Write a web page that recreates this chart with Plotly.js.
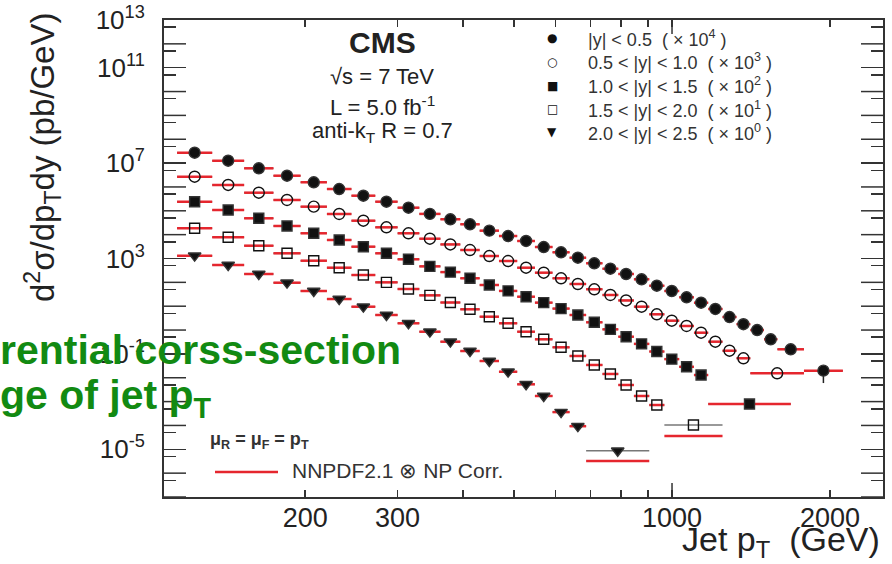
<!DOCTYPE html>
<html><head><meta charset="utf-8">
<script src="https://cdn.plot.ly/plotly-3.0.1.min.js"></script>
<style>html,body{margin:0;padding:0;background:#fff;}#chart{width:892px;height:564px;}</style>
</head><body><div id="chart"></div>
<script>
// ---- data (values as plotted, already multiplied by the legend scale factors) ----
const binEdges = [114,133,153,174,196,220,245,272,300,330,362,395,430,468,507,548,592,638,686,737,790,846,905,967,1032,1101,1172,1248,1327,1410,1497,1588,1684,1784,2116];

const s1Edges = binEdges.slice(0,32).concat([1784,2116]);
const s1Vals = [2.73e7,1.26e7,6.05e6,2.96e6,1.57e6,8.20e5,4.30e5,2.41e5,1.35e5,7.41e4,4.41e4,2.72e4,1.47e4,8.77e3,5.42e3,3.03e3,1.82e3,1.08e3,630,373,224,134,72.4,43.4,23.6,14.0,7.64,3.52,1.76,1.00,0.409,0.156,0.0198];
const s1ErrUp   = [0,0,0,0,0,0,0,0,0,0,0,0,0,0,0,0,0,0,0,0,0,0,0,0,0,0,0,0,0,0,0,0,0.009];
const s1ErrDown = [0,0,0,0,0,0,0,0,0,0,0,0,0,0,0,0,0,0,0,0,0,0,0,0,0,0,0,0,0,0,0,0,0.0138];

const s2Edges = binEdges.slice(0,30).concat([1784]);
const s2Vals = [2.69e6,1.21e6,5.74e5,2.84e5,1.49e5,7.35e4,3.85e4,2.03e4,1.14e4,6.76e3,3.89e3,2.27e3,1.27e3,785,411,254,148,85.3,51.2,29.5,17.4,9.55,4.57,2.47,1.48,0.774,0.325,0.136,0.0655,0.0154];

const s3Edges = binEdges.slice(0,27).concat([1684]);
const s3Vals = [2.41e5,1.08e5,4.85e4,2.31e4,1.14e4,5.97e3,3.13e3,1.65e3,927,468,269,148,77.4,43.7,25.0,14.1,7.94,4.28,2.11,1.07,0.526,0.263,0.126,0.0603,0.0288,0.0130,7.9e-4];

const s4Edges = binEdges.slice(0,24).concat([1248]);
const s4Vals = [1.85e4,7.74e3,3.44e3,1.65e3,809,411,203,100,52.6,28.5,14.3,7.41,3.63,1.92,0.853,0.409,0.189,0.0817,0.0343,0.0144,4.97e-3,1.72e-3,7.19e-4,1.05e-4];
const s4TheoryLast = 3.6e-5;

const s5Edges = binEdges.slice(0,19).concat([905]);
const s5Vals = [1.31e3,533,224,96.6,43.4,20.0,9.53,4.28,1.92,0.853,0.325,0.132,0.0504,0.0179,5.31e-3,1.72e-3,3.63e-4,9.3e-5,8.7e-6];
const s5TheoryLast = 3.2e-6;

const legendLabels = [
  '|y| &lt; 0.5  ( × 10<sup>4</sup> )',
  '0.5 &lt; |y| &lt; 1.0  ( × 10<sup>3</sup> )',
  '1.0 &lt; |y| &lt; 1.5  ( × 10<sup>2</sup> )',
  '1.5 &lt; |y| &lt; 2.0  ( × 10<sup>1</sup> )',
  '2.0 &lt; |y| &lt; 2.5  ( × 10<sup>0</sup> )'
];
const legendGlyphs = ['●','○','■','□','▼'];

const xTickVals = [200,300,1000,2000];
const xTickText = ['200','300','1000','2000'];
const xMinorVals = [400,500,600,700,800,900];
const yTickVals = [1e-5,1e-1,1e3,1e7,1e11,1e13];
const yTickText = ['10<sup>-5</sup>','10<sup>-1</sup>','10<sup>3</sup>','10<sup>7</sup>','10<sup>11</sup>','10<sup>13</sup>'];
const yUnlabeledDecades = [1e-7,1e-6,1e-4,1e-3,1e-2,1,1e1,1e2,1e4,1e5,1e6,1e8,1e9,1e10,1e12];
const yMinorVals = [5e-8,5e-7,5e-6,5e-5,5e-4,5e-3,5e-2,0.5,5,50,500,5e3,5e4,5e5,5e6,5e7,5e8,5e9,5e10,5e11,5e12];

// ---- styling ----
const RED = '#e5262e';
const INK = '#222';
const AX = '#333';
const FONT = 'Liberation Sans, Arial, sans-serif';
const X_RANGE = [2.032, 3.402];
const Y_RANGE = [-7, 13];
const M = {l:164, r:9, t:20, b:67};
const W = 892, H = 564;
const PW = W - M.l - M.r, PH = H - M.t - M.b;
const px = v => (v - M.l) / PW;
const py = v => (H - M.b - v) / PH;

function centers(edges){ const c=[]; for(let i=0;i<edges.length-1;i++) c.push(Math.sqrt(edges[i]*edges[i+1])); return c; }

function errTrace(edges, vals, eUp, eDown){
  const x = centers(edges);
  const t = {x:x, y:vals, type:'scatter', mode:'markers', marker:{size:2, opacity:0}, hoverinfo:'skip',
    error_x:{type:'data', symmetric:false, array:x.map((c,i)=>edges[i+1]-c), arrayminus:x.map((c,i)=>c-edges[i]), color:'#777', thickness:1.5, width:0}};
  if(eUp) t.error_y = {type:'data', symmetric:false, array:eUp, arrayminus:eDown, color:INK, thickness:1.5, width:0};
  return t;
}
function theoryTrace(edges, vals){
  const xs=[], ys=[];
  for(let i=0;i<vals.length;i++){ xs.push(edges[i], edges[i+1], null); ys.push(vals[i], vals[i], null); }
  return {x:xs, y:ys, type:'scatter', mode:'lines', line:{color:RED, width:2.5}, hoverinfo:'skip', connectgaps:false};
}
function markerTrace(edges, vals, sym, size){
  return {x:centers(edges), y:vals, type:'scatter', mode:'markers',
    marker:{symbol:sym, size:size, color:'#111', line:{color:AX, width:1.4}}};
}

const s4Theory = s4Vals.slice(0,-1).concat([s4TheoryLast]);
const s5Theory = s5Vals.slice(0,-1).concat([s5TheoryLast]);

const traces = [
  errTrace(s1Edges, s1Vals, s1ErrUp, s1ErrDown),
  errTrace(s2Edges, s2Vals),
  errTrace(s3Edges, s3Vals),
  errTrace(s4Edges, s4Vals),
  errTrace(s5Edges, s5Vals),
  theoryTrace(s1Edges, s1Vals),
  theoryTrace(s2Edges, s2Vals),
  theoryTrace(s3Edges, s3Vals),
  theoryTrace(s4Edges, s4Theory),
  theoryTrace(s5Edges, s5Theory),
  markerTrace(s1Edges, s1Vals, 'circle', 11),
  markerTrace(s2Edges, s2Vals, 'circle-open', 11),
  markerTrace(s3Edges, s3Vals, 'square', 10),
  markerTrace(s4Edges, s4Vals, 'square-open', 10),
  markerTrace(s5Edges, s5Vals, 'triangle-down', 11)
];

const ann = [];
const A = (o) => ann.push(Object.assign({xref:'paper', yref:'paper', showarrow:false}, o));
const F = (size, color) => ({family:FONT, size:size, color:color || INK});

// CMS block
A({x:px(382), y:py(43), text:'<b>CMS</b>', font:F(30), xanchor:'center', yanchor:'middle'});
A({x:px(382), y:py(76), text:'√s = 7 TeV', font:F(22), xanchor:'center', yanchor:'middle'});
A({x:px(382), y:py(106), text:'L = 5.0 fb<sup>-1</sup>', font:F(22), xanchor:'center', yanchor:'middle'});
A({x:px(382), y:py(132), text:'anti-k<sub>T</sub> R = 0.7', font:F(22), xanchor:'center', yanchor:'middle'});

// top-right legend
const rowY = [38, 62, 86, 109, 132];
for(let i=0;i<legendLabels.length;i++){
  A({x:px(552), y:py(rowY[i]), text:legendGlyphs[i], font:{family:'DejaVu Sans', size:12, color:'#111'}, xanchor:'center', yanchor:'middle'});
  A({x:px(586), y:py(rowY[i]), text:legendLabels[i], font:F(18, '#333'), xanchor:'left', yanchor:'middle'});
}

// bottom-left legend
A({x:px(208), y:py(440), text:'<b>μ<sub>R</sub> = μ<sub>F</sub> = p<sub>T</sub></b>', font:F(18, '#333'), xanchor:'left', yanchor:'middle'});
A({x:px(290), y:py(470), text:'NNPDF2.1 ⊗ NP Corr.', font:F(21, '#333'), xanchor:'left', yanchor:'middle'});

// axis titles
A({x:px(42), y:py(158), text:'d<sup>2</sup>σ/dp<sub>T</sub>dy (pb/GeV)', textangle:-90, font:F(33), xanchor:'center', yanchor:'middle'});
A({x:px(882), y:py(541), text:'Jet p<sub>T</sub>  (GeV)', font:F(34), xanchor:'right', yanchor:'middle'});

// green overlay text
A({x:px(-2), y:py(350), text:'<b>rential corss-section</b>', font:F(41, '#128a12'), xanchor:'left', yanchor:'middle'});
A({x:px(-2), y:py(398), text:'<b>ge of jet p<sub>T</sub></b>', font:F(41, '#128a12'), xanchor:'left', yanchor:'middle'});

// extra tick marks: long tick at 1000 GeV (bottom/top) and unlabeled decade ticks (left/right)
const tickFrac = (Math.log10(1000) - X_RANGE[0]) / (X_RANGE[1] - X_RANGE[0]);
const shapes = [
  {type:'line', xref:'paper', yref:'paper', x0:px(215), x1:px(278), y0:py(472), y1:py(472), line:{color:RED, width:2.5}},
  {type:'line', xref:'paper', yref:'paper', x0:tickFrac, x1:tickFrac, y0:0, y1:14/PH, line:{color:AX, width:1.5}},
  {type:'line', xref:'paper', yref:'paper', x0:tickFrac, x1:tickFrac, y0:1, y1:1-14/PH, line:{color:AX, width:1.5}}
];
yUnlabeledDecades.forEach(d => {
  const f = (Math.log10(d) - Y_RANGE[0]) / (Y_RANGE[1] - Y_RANGE[0]);
  shapes.push({type:'line', xref:'paper', yref:'paper', x0:0, x1:22/PW, y0:f, y1:f, line:{color:AX, width:1.5}});
  shapes.push({type:'line', xref:'paper', yref:'paper', x0:1, x1:1-22/PW, y0:f, y1:f, line:{color:AX, width:1.5}});
});

const axisCommon = {showgrid:false, zeroline:false, showline:true, linecolor:AX, linewidth:2, mirror:'allticks', ticks:'inside', tickcolor:AX, tickwidth:1.5};

const layout = {
  width:W, height:H, margin:Object.assign({pad:0}, M), showlegend:false,
  paper_bgcolor:'#fff', plot_bgcolor:'#fff',
  font:{family:FONT, color:INK},
  xaxis:Object.assign({}, axisCommon, {type:'log', range:X_RANGE, tickmode:'array', tickvals:xTickVals, ticktext:xTickText, ticklen:7,
    tickfont:{size:27, color:INK}, ticklabelstandoff:-4,
    minor:{tickmode:'array', tickvals:xMinorVals, ticklen:7, ticks:'inside', tickcolor:AX, tickwidth:1.5}}),
  yaxis:Object.assign({}, axisCommon, {type:'log', range:Y_RANGE, tickmode:'array', tickvals:yTickVals, ticktext:yTickText, ticklen:22,
    tickfont:{size:26, color:INK}, ticklabelstandoff:12,
    minor:{tickmode:'array', tickvals:yMinorVals, ticklen:12, ticks:'inside', tickcolor:AX, tickwidth:1.5}}),
  annotations:ann, shapes:shapes
};

Plotly.newPlot('chart', traces, layout, {staticPlot:true, displayModeBar:false});
</script></body></html>
